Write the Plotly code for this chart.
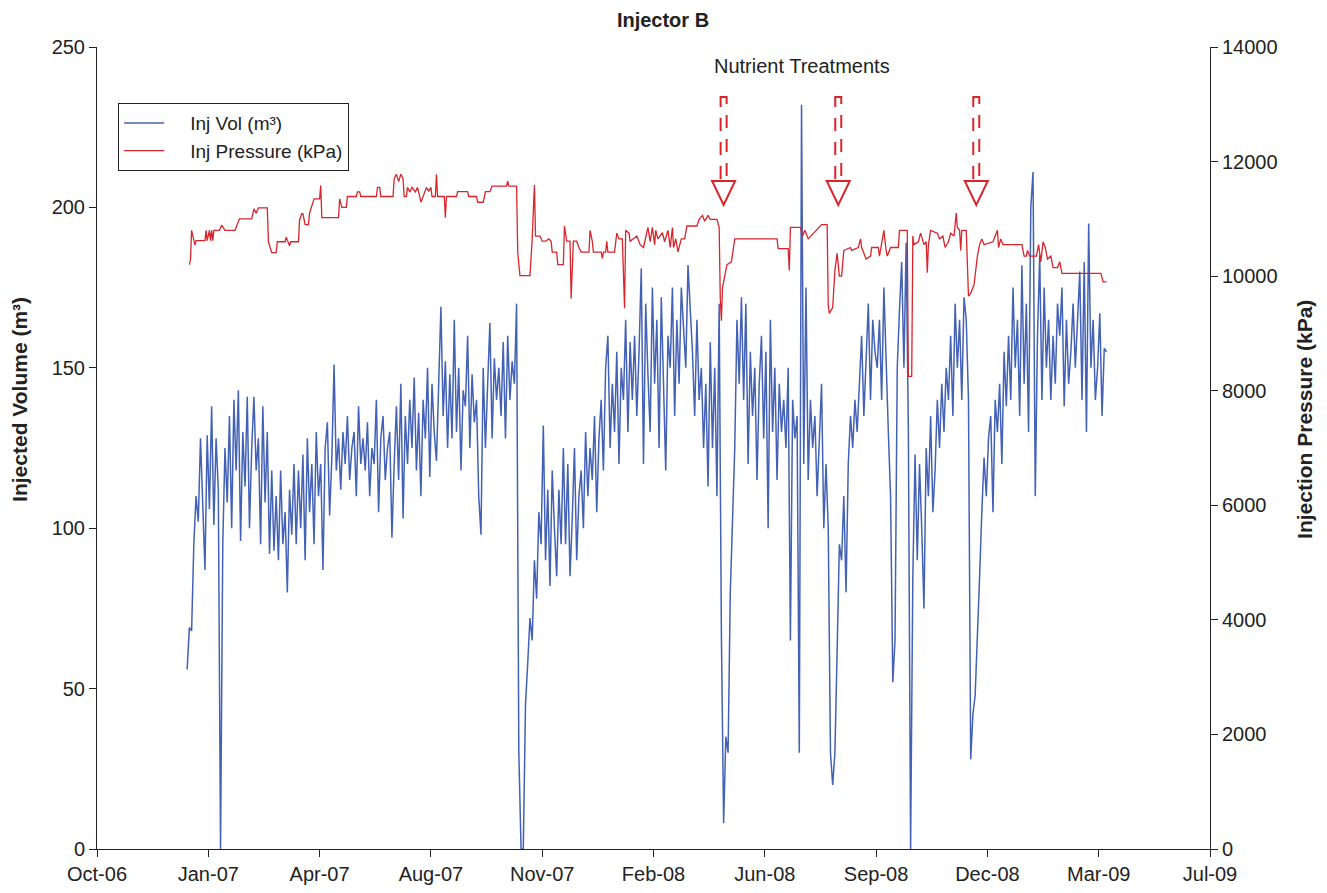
import plotly.graph_objects as go
import pandas as pd

# ---------------- data ----------------
vol_start = "2006-12-30"          # first daily reading (sampled every 2 days)
vol_step = "2D"
inj_vol = [
    56, 69, 68, 95, 110, 102, 128, 105, 87, 129,
    106, 138, 101, 128, 112, 0, 95, 125, 108, 135,
    100, 140, 118, 143, 96, 130, 113, 141, 100, 125,
    141, 118, 128, 95, 138, 108, 130, 92, 118, 93,
    110, 90, 118, 95, 105, 80, 112, 98, 120, 95,
    118, 100, 123, 90, 128, 105, 120, 95, 130, 110,
    120, 87, 125, 133, 104, 122, 151, 118, 128, 112,
    130, 120, 135, 115, 125, 130, 110, 138, 120, 128,
    118, 133, 110, 125, 120, 140, 105, 128, 135, 115,
    125, 130, 97, 120, 138, 115, 145, 103, 135, 120,
    140, 125, 147, 118, 136, 110, 140, 128, 150, 116,
    145, 130, 121, 145, 169, 135, 152, 125, 148, 128,
    165, 130, 150, 118, 143, 138, 160, 125, 148, 133,
    140, 110, 98, 150, 125, 145, 164, 128, 153, 140,
    150, 135, 158, 128, 160, 140, 152, 145, 170, 30,
    0, 0, 45, 58, 72, 65, 90, 78, 105, 95,
    132, 90, 112, 82, 118, 100, 85, 112, 95, 125,
    95, 120, 85, 103, 125, 90, 110, 118, 100, 130,
    110, 125, 115, 135, 105, 128, 140, 118, 150, 160,
    125, 145, 130, 155, 120, 150, 140, 165, 130, 158,
    140, 160, 135, 155, 181, 120, 170, 148, 130, 175,
    145, 165, 125, 172, 140, 118, 160, 150, 175, 135,
    165, 145, 175, 160, 150, 182, 170, 155, 135, 165,
    140, 150, 125, 145, 113, 158, 125, 150, 110, 170,
    67, 8, 35, 30, 80, 100, 125, 165, 145, 172,
    140, 170, 120, 155, 135, 150, 115, 145, 160, 128,
    155, 100, 165, 130, 150, 115, 145, 130, 140, 125,
    150, 65, 140, 128, 135, 30, 232, 120, 175, 115,
    140, 125, 135, 110, 130, 145, 100, 120, 100, 30,
    20, 30, 62, 95, 90, 110, 80, 120, 135, 125,
    140, 130, 145, 160, 135, 150, 170, 140, 165, 155,
    150, 165, 140, 175, 150, 130, 110, 52, 65, 150,
    168, 183, 150, 189, 130, 0, 85, 123, 90, 120,
    100, 75, 125, 110, 135, 105, 118, 140, 125, 145,
    130, 150, 140, 160, 135, 170, 150, 165, 140, 172,
    165, 140, 28, 42, 48, 65, 85, 105, 122, 110,
    128, 135, 105, 140, 130, 145, 120, 155, 138, 160,
    140, 175, 150, 165, 135, 182, 145, 170, 130, 200,
    211, 110, 160, 185, 140, 175, 150, 165, 140, 160,
    145, 170, 160, 175, 138, 165, 145, 155, 170, 150,
    165, 180, 140, 183, 130, 195, 150, 165, 140, 150,
    167, 135, 156, 155,
]

# pressure readings: day offset from vol_start and kPa
press_days = [
    2, 3, 4, 6, 7, 8, 16, 17, 18, 20,
    21, 22, 23, 24, 29, 31, 34, 43, 45, 47,
    58, 60, 62, 64, 72, 73, 76, 80, 81, 88,
    89, 91, 92, 93, 100, 101, 103, 104, 106, 109,
    110, 114, 119, 120, 121, 136, 137, 139, 143, 144,
    152, 153, 155, 156, 170, 171, 173, 174, 185, 186,
    188, 190, 192, 194, 195, 197, 198, 200, 202, 205,
    207, 209, 210, 212, 215, 217, 219, 220, 223, 224,
    225, 231, 232, 233, 242, 243, 252, 253, 260, 261,
    266, 268, 272, 274, 287, 288, 289, 296, 297, 299,
    308, 310, 312, 313, 317, 319, 322, 325, 327, 328,
    332, 333, 338, 339, 341, 344, 345, 347, 350, 352,
    354, 361, 362, 364, 365, 372, 373, 374, 376, 377,
    378, 384, 386, 388, 391, 393, 394, 397, 398, 404,
    407, 410, 412, 414, 416, 418, 420, 421, 423, 427,
    429, 432, 434, 436, 437, 439, 441, 444, 447, 449,
    458, 460, 463, 465, 468, 470, 476, 478, 479, 480,
    481, 483, 485, 489, 492, 530, 531, 540, 541, 542,
    551, 553, 555, 558, 566, 570, 575, 576, 577, 580,
    582, 584, 586, 588, 590, 596, 597, 603, 605, 606,
    610, 614, 615, 621, 622, 624, 626, 628, 629, 632,
    639, 640, 647, 648, 651, 652, 653, 657, 659, 662,
    664, 665, 666, 668, 674, 676, 679, 681, 684, 686,
    689, 691, 692, 694, 695, 696, 700, 702, 704, 707,
    709, 710, 712, 714, 716, 724, 728, 729, 731, 733,
    750, 752, 754, 755, 757, 763, 765, 767, 769, 771,
    773, 776, 778, 782, 784, 786, 821, 823, 826,
]
press_kpa = [
    10200, 10290, 10800, 10610, 10540, 10620, 10620, 10800, 10620, 10800,
    10620, 10800, 10620, 10800, 10800, 10890, 10800, 10800, 10890, 11000,
    11000, 11175, 11100, 11190, 11190, 10600, 10410, 10410, 10600, 10600,
    10680, 10560, 10530, 10600, 10600, 10980, 11090, 11090, 10900, 10900,
    11100, 11350, 11350, 11580, 11020, 11020, 11350, 11200, 11200, 11390,
    11390, 11470, 11470, 11390, 11390, 11550, 11550, 11390, 11390, 11700,
    11780, 11650, 11780, 11700, 11390, 11390, 11550, 11470, 11550, 11470,
    11550, 11390, 11290, 11390, 11550, 11480, 11550, 11390, 11390, 11780,
    11390, 11390, 11020, 11390, 11390, 11475, 11475, 11390, 11390, 11290,
    11290, 11475, 11475, 11570, 11570, 11660, 11570, 11570, 10420, 10010,
    10010, 10650, 11590, 10700, 10700, 10610, 10610, 10650, 10610, 10420,
    10420, 10200, 10200, 10875, 10610, 10610, 9610, 10610, 10610, 10500,
    10420, 10420, 10800, 10610, 10420, 10420, 10310, 10420, 10420, 10610,
    10420, 10420, 10750, 10650, 10650, 9440, 10800, 10750, 10610, 10700,
    10550, 10500, 10650, 10850, 10600, 10850, 10550, 10800, 10650, 10760,
    10600, 10800, 10500, 10850, 10500, 10650, 10425, 10650, 10650, 10875,
    10875, 10990, 11060, 10960, 11060, 10990, 10990, 10850, 9600, 9220,
    9800, 10000, 10200, 10250, 10650, 10650, 10480, 10480, 10100, 10850,
    10850, 10700, 10800, 10650, 10820, 10900, 10900, 9500, 9350, 9450,
    10100, 10400, 10000, 10000, 10450, 10500, 10450, 10500, 10650, 10500,
    10300, 10350, 10500, 10500, 10350, 10600, 10800, 10450, 10350, 10500,
    10500, 10800, 10800, 8250, 8250, 10700, 10550, 10600, 10750, 10550,
    10600, 10060, 10550, 10800, 10750, 10650, 10700, 10500, 10600, 10750,
    10700, 11100, 10850, 10800, 10450, 10800, 10800, 9650, 9700, 9850,
    10200, 10350, 10550, 10650, 10550, 10600, 10800, 10500, 10650, 10550,
    10550, 10350, 10350, 10450, 10350, 10350, 10550, 10250, 10600, 10500,
    10300, 10350, 10150, 10150, 10250, 10050, 10050, 9900, 9900,
]

treatment_dates = ["2008-04-25", "2008-08-06", "2008-12-08"]

x_range = ["2006-10-10", "2009-07-06"]
x_ticks = pd.date_range("2006-10-10", periods=11, freq="100D")
vol_ticks = [0, 50, 100, 150, 200, 250]
press_ticks = [0, 2000, 4000, 6000, 8000, 10000, 12000, 14000]

# ---------------- figure ----------------
BLUE = "#4462B5"
RED = "#D8252C"
FONT = "Liberation Sans, Arial, sans-serif"
W, H = 1319, 877          # page body has an 8 px margin
PAD = "\u00a0\u00a0\u00a0\u00a0"

vol_dates = pd.date_range(vol_start, periods=len(inj_vol), freq=vol_step)
press_dates = pd.Timestamp(vol_start) + pd.to_timedelta(press_days, unit="D")

fig = go.Figure()
fig.add_trace(go.Scatter(x=vol_dates, y=inj_vol, mode="lines",
                         name=PAD + "Inj Vol (m³)",
                         line=dict(color=BLUE, width=1.5), yaxis="y"))
fig.add_trace(go.Scatter(x=press_dates, y=press_kpa, mode="lines",
                         name=PAD + "Inj Pressure (kPa)",
                         line=dict(color=RED, width=1.3), yaxis="y2"))

axis_common = dict(showline=True, linecolor="#222", linewidth=1,
                   ticks="outside", ticklen=7, tickcolor="#222",
                   showgrid=False, zeroline=False, automargin=False,
                   tickfont=dict(family=FONT, size=20, color="#222"))

fig.update_layout(
    width=W, height=H,
    margin=dict(l=89, r=117, t=39, b=36),
    paper_bgcolor="white", plot_bgcolor="white",
    font=dict(family=FONT, color="#222"),
    title=dict(text="<b>Injector B</b>", x=655 / W, xref="container",
               y=1 - 12 / H, yref="container", yanchor="middle",
               xanchor="center", font=dict(family=FONT, size=20, color="#222")),
    xaxis=dict(type="date", range=x_range, tickvals=x_ticks,
               tickformat="%b-%y", **axis_common),
    yaxis=dict(range=[0, 250], tickvals=vol_ticks, **axis_common),
    yaxis2=dict(range=[0, 14000], tickvals=press_ticks,
                ticktext=[str(v) for v in press_ticks], overlaying="y",
                side="right", anchor="x", **axis_common),
    showlegend=True,
    legend=dict(x=0.019, y=0.93, xanchor="left", yanchor="top",
                bgcolor="white", bordercolor="#222", borderwidth=1,
                font=dict(family=FONT, size=19, color="#222"),
                traceorder="normal", itemwidth=40, tracegroupgap=0),
)

# axis titles
fig.add_annotation(text="<b>Injected Volume (m³)</b>", textangle=-90,
                   xref="paper", yref="paper", x=(20 - 97) / 1113, y=0.56,
                   showarrow=False, xanchor="center", yanchor="middle",
                   font=dict(family=FONT, size=21, color="#222"))
fig.add_annotation(text="<b>Injection Pressure (kPa)</b>", textangle=-90,
                   xref="paper", yref="paper", x=(1305 - 97) / 1113, y=0.535,
                   showarrow=False, xanchor="center", yanchor="middle",
                   font=dict(family=FONT, size=21, color="#222"))

# treatment markers
fig.add_annotation(text="Nutrient Treatments", xref="paper", yref="paper",
                   x=(802 - 97) / 1113, y=(849 - 66) / 802, showarrow=False,
                   xanchor="center", yanchor="middle",
                   font=dict(family=FONT, size=20, color="#222"))
for d in treatment_dates:
    fig.add_shape(type="rect", xref="x", xsizemode="pixel", xanchor=d,
                  x0=-3, x1=3, yref="paper", ysizemode="pixel", yanchor=1,
                  y0=-50, y1=-133,
                  line=dict(color=RED, width=2, dash="13px,11px"),
                  fillcolor="rgba(0,0,0,0)")
    fig.add_shape(type="path", xref="x", xsizemode="pixel", xanchor=d,
                  yref="paper", ysizemode="pixel", yanchor=1,
                  path="M -11.5,-134 L 11.5,-134 L 0,-158 Z",
                  line=dict(color=RED, width=2), fillcolor="white")

fig.write_html("out.html")
